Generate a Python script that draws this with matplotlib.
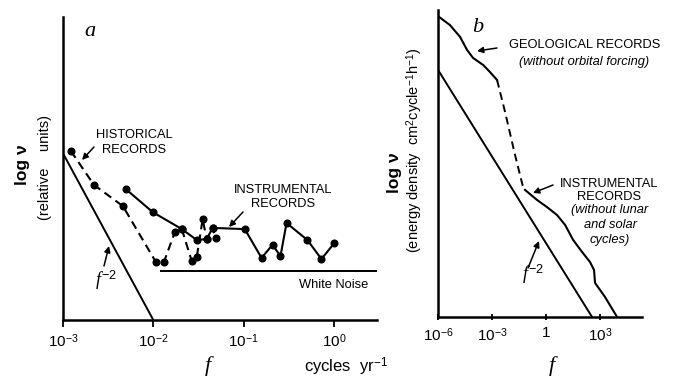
import numpy as np
import matplotlib
matplotlib.use("Agg")
import matplotlib.pyplot as plt

plt.rcParams['font.family'] = ['Liberation Sans', 'DejaVu Sans']
plt.rcParams['mathtext.fontset'] = 'custom'
plt.rcParams['mathtext.rm'] = 'Liberation Sans'
plt.rcParams['mathtext.it'] = 'Liberation Serif:italic'

# ---- panel a: relative units (0..100) ----
hist_f = [1.22e-3, 2.20e-3, 4.60e-3, 1.07e-2, 1.31e-2, 1.73e-2, 2.07e-2,
          2.66e-2, 3.03e-2, 3.52e-2, 3.90e-2, 4.54e-2, 4.91e-2]
hist_v = [55.8, 44.6, 37.6, 19.1, 19.1, 29.0, 30.0, 19.5, 20.8, 33.3, 26.7, 30.4, 27.1]

instr_f = [4.96e-3, 9.86e-3, 2.07e-2, 3.03e-2, 3.90e-2, 4.54e-2, 0.103, 0.158,
           0.209, 0.256, 0.299, 0.509, 0.728, 1.01]
instr_v = [43.2, 35.6, 30.0, 26.4, 26.7, 30.4, 30.0, 20.5, 24.8, 21.1, 32.0, 26.4, 20.1, 25.4]

f2a_f = [1e-3, 1e-2]
f2a_v = [55.0, 0.0]

white_f = [1.21e-2, 3.0]
white_v = [16.2, 16.2]

a_ticks = [1e-3, 1e-2, 1e-1, 1e0]
a_ticklabels = ['10$^{-3}$', '10$^{-2}$', '10$^{-1}$', '10$^{0}$']

# ---- panel b ----
geo_f = [1e-6, 4.6e-6, 1.7e-5, 4.1e-5, 8.8e-5, 3.2e-4, 7.7e-4, 1.9e-3]
geo_v = [98.0, 95.1, 91.2, 87.0, 84.4, 82.1, 79.8, 77.2]

gap_f = [1.9e-3, 5.3e-3, 1.9e-2, 5.3e-2]
gap_v = [77.2, 66.8, 52.8, 42.3]

inst_b_f = [6.8e-2, 0.32, 1.14, 4.1, 11.4, 32, 100, 278, 464, 527, 1900, 8800]
inst_b_v = [41.4, 38.1, 35.8, 33.2, 30.0, 25.1, 21.2, 17.9, 15.3, 11.1, 6.5, 0.0]

f2b_f = [1e-6, 360]
f2b_v = [80.5, 0.0]

b_ticks = [1e-6, 1e-3, 1, 1e3]
b_ticklabels = ['10$^{-6}$', '10$^{-3}$', '1', '10$^{3}$']

W, H = 674, 378
fig = plt.figure(figsize=(W / 100, H / 100), dpi=100)


def P(x, y):
    # pixel position (from top-left) -> figure fraction
    return (x / W, 1 - y / H)


def style_axes(ax, direction):
    for s in ['top', 'right']:
        ax.spines[s].set_visible(False)
    for s in ['left', 'bottom']:
        ax.spines[s].set_linewidth(1.8)
    ax.set_yticks([])
    ax.minorticks_off()
    ax.tick_params(axis='x', direction=direction, length=5, width=1.3,
                   labelsize=11, pad=4)


# panel a
axa = fig.add_axes([63 / W, 1 - 320 / H, (377 - 63) / W, (320 - 17) / H])
axa.set_xscale('log')
axa.set_xlim(1e-3, 3.0)
axa.set_ylim(0, 100)
style_axes(axa, 'out')
axa.set_xticks(a_ticks)
axa.set_xticklabels(a_ticklabels)
axa.minorticks_off()

axa.plot(f2a_f, f2a_v, color='k', lw=1.4)
axa.plot(white_f, white_v, color='k', lw=1.4)
axa.plot(hist_f, hist_v, color='k', lw=1.5, ls=(0, (4, 2.5)),
         marker='o', ms=4.8)
axa.plot(instr_f, instr_v, color='k', lw=1.5, marker='o', ms=4.8)

# panel b
axb = fig.add_axes([438 / W, 1 - 317 / H, (642 - 438) / W, (317 - 10) / H])
axb.set_xscale('log')
axb.set_xlim(1e-6, 10 ** 5.33)
axb.set_ylim(0, 100)
style_axes(axb, 'inout')
axb.set_xticks(b_ticks)
axb.set_xticklabels(b_ticklabels)
axb.minorticks_off()

axb.plot(f2b_f, f2b_v, color='k', lw=1.4)
axb.plot(geo_f, geo_v, color='k', lw=1.5)
axb.plot(gap_f, gap_v, color='k', lw=1.4, ls=(0, (4, 2.5)))
axb.plot(inst_b_f, inst_b_v, color='k', lw=1.5)

# text and arrows
arrow = dict(arrowstyle='-|>', color='k', lw=1.1, mutation_scale=9,
             shrinkA=0, shrinkB=0)


def arr(tail, head):
    fig.add_artist(matplotlib.patches.FancyArrowPatch(
        P(*tail), P(*head), transform=fig.transFigure, **arrow))


serif_it = dict(family='Liberation Serif', style='italic')
fs = 9.3

fig.text(*P(90, 32), 'a', fontsize=16, ha='center', va='center', **serif_it)
fig.text(*P(478, 28), 'b', fontsize=16, ha='center', va='center', **serif_it)

fig.text(*P(22, 165), 'log ν', rotation=90, fontsize=12.5, fontweight='bold',
         ha='center', va='center')
fig.text(*P(45, 168), '(relative    units)', rotation=90, fontsize=10.5,
         ha='center', va='center')
fig.text(*P(395, 173), 'log ν', rotation=90, fontsize=12.5, fontweight='bold',
         ha='center', va='center')
fig.text(*P(415, 150), '(energy density  cm$^2$cycle$^{-1}$h$^{-1}$)',
         rotation=90, fontsize=10.5, ha='center', va='center')

fig.text(*P(208, 366), 'f', fontsize=16, ha='center', va='center', **serif_it)
fig.text(*P(552, 366), 'f', fontsize=16, ha='center', va='center', **serif_it)
fig.text(*P(346, 367), 'cycles  yr$^{-1}$', fontsize=12, ha='center',
         va='center')

fig.text(*P(134, 135), 'HISTORICAL', fontsize=fs, ha='center', va='center')
fig.text(*P(134, 150), 'RECORDS', fontsize=fs, ha='center', va='center')
arr((94, 147), (82, 160))

fig.text(*P(283, 190), 'INSTRUMENTAL', fontsize=fs, ha='center', va='center')
fig.text(*P(283, 204), 'RECORDS', fontsize=fs, ha='center', va='center')
arr((243, 212), (229, 227))

fig.text(*P(334, 285), 'White Noise', fontsize=fs, ha='center', va='center')

fig.text(*P(106, 280), '$f^{-2}$', fontsize=13, ha='center', va='center')
arr((104, 266), (109, 246))

fig.text(*P(585, 45), 'GEOLOGICAL RECORDS', fontsize=fs, ha='center',
         va='center')
fig.text(*P(584, 62), '(without orbital forcing)', fontsize=fs,
         style='italic', ha='center', va='center')
arr((497, 48), (477, 51))

fig.text(*P(609, 184), 'INSTRUMENTAL', fontsize=fs, ha='center', va='center')
fig.text(*P(609, 197), 'RECORDS', fontsize=fs, ha='center', va='center')
fig.text(*P(610, 210), '(without lunar', fontsize=fs, style='italic',
         ha='center', va='center')
fig.text(*P(610, 225), 'and solar', fontsize=fs, style='italic',
         ha='center', va='center')
fig.text(*P(610, 240), 'cycles)', fontsize=fs, style='italic',
         ha='center', va='center')
arr((553, 185), (533, 193))

fig.text(*P(533, 274), '$f^{-2}$', fontsize=13, ha='center', va='center')
arr((528, 268), (539, 241))

fig.savefig('out.png', dpi=100)
